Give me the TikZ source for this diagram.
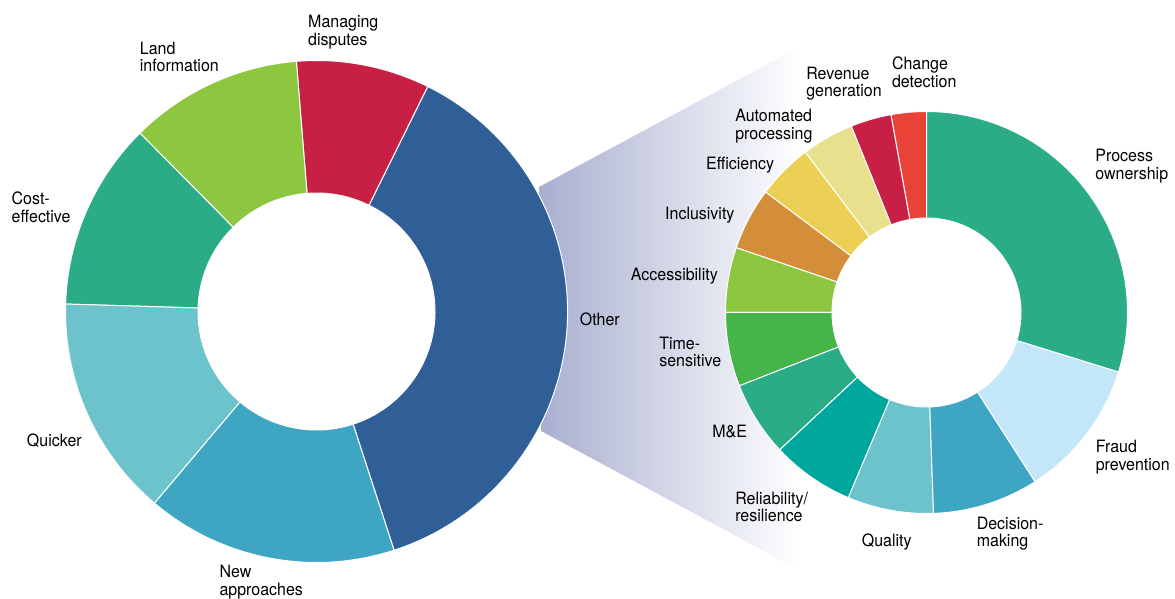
\documentclass[tikz,border=0pt]{standalone}
\usepackage{fontspec}
\setmainfont{TeX Gyre Heros}[FakeStretch=0.94]
\usepackage{tikz}

\definecolor{otherblue}{HTML}{2F5F96}
\definecolor{crimson}{HTML}{C81F45}
\definecolor{lime}{HTML}{8DC63F}
\definecolor{teal}{HTML}{2AAD87}
\definecolor{paleteal}{HTML}{6CC3CC}
\definecolor{midblue}{HTML}{3EA5C3}
\definecolor{skyblue}{HTML}{C3E7F8}
\definecolor{seagreen}{HTML}{00A79D}
\definecolor{grass}{HTML}{46B549}
\definecolor{ochre}{HTML}{D48E3A}
\definecolor{mustard}{HTML}{ECD056}
\definecolor{sand}{HTML}{E8E08C}
\definecolor{vermilion}{HTML}{EA4236}
\definecolor{funnel}{HTML}{A8AFCF}

\begin{document}
\begin{tikzpicture}[x=1pt,y=1pt,seg/.style={draw=white,line width=1pt}]

    \useasboundingbox (0,0) rectangle (1175,599);

    % zoom funnel behind the rings
    \shade[left color=funnel, right color=white]
        (539,412) -- (800,552.4) -- (800,28.6) -- (541,168) -- cycle;

    % left ring: R=251, r=118.5
    \begin{scope}[shift={(316.5,287.5)}]
        \filldraw[seg,fill=otherblue] (-72:251) arc[start angle=-72,end angle=63.7,radius=251] -- (63.7:118.5) arc[start angle=63.7,end angle=-72,radius=118.5] -- cycle;
        \filldraw[seg,fill=crimson] (63.7:251) arc[start angle=63.7,end angle=94.6,radius=251] -- (94.6:118.5) arc[start angle=94.6,end angle=63.7,radius=118.5] -- cycle;
        \filldraw[seg,fill=lime] (94.6:251) arc[start angle=94.6,end angle=134.7,radius=251] -- (134.7:118.5) arc[start angle=134.7,end angle=94.6,radius=118.5] -- cycle;
        \filldraw[seg,fill=teal] (134.7:251) arc[start angle=134.7,end angle=178.3,radius=251] -- (178.3:118.5) arc[start angle=178.3,end angle=134.7,radius=118.5] -- cycle;
        \filldraw[seg,fill=paleteal] (178.3:251) arc[start angle=178.3,end angle=229.8,radius=251] -- (229.8:118.5) arc[start angle=229.8,end angle=178.3,radius=118.5] -- cycle;
        \filldraw[seg,fill=midblue] (229.8:251) arc[start angle=229.8,end angle=288,radius=251] -- (288:118.5) arc[start angle=288,end angle=229.8,radius=118.5] -- cycle;
    \end{scope}

    % right ring: R=201, r=94.5
    \begin{scope}[shift={(926.5,286.5)}]
        \filldraw[seg,fill=vermilion] (90:201) arc[start angle=90,end angle=100.2,radius=201] -- (100.2:94.5) arc[start angle=100.2,end angle=90,radius=94.5] -- cycle;
        \filldraw[seg,fill=crimson] (100.2:201) arc[start angle=100.2,end angle=112,radius=201] -- (112:94.5) arc[start angle=112,end angle=100.2,radius=94.5] -- cycle;
        \filldraw[seg,fill=sand] (112:201) arc[start angle=112,end angle=127.1,radius=201] -- (127.1:94.5) arc[start angle=127.1,end angle=112,radius=94.5] -- cycle;
        \filldraw[seg,fill=mustard] (127.1:201) arc[start angle=127.1,end angle=143.2,radius=201] -- (143.2:94.5) arc[start angle=143.2,end angle=127.1,radius=94.5] -- cycle;
        \filldraw[seg,fill=ochre] (143.2:201) arc[start angle=143.2,end angle=161.2,radius=201] -- (161.2:94.5) arc[start angle=161.2,end angle=143.2,radius=94.5] -- cycle;
        \filldraw[seg,fill=lime] (161.2:201) arc[start angle=161.2,end angle=180,radius=201] -- (180:94.5) arc[start angle=180,end angle=161.2,radius=94.5] -- cycle;
        \filldraw[seg,fill=grass] (180:201) arc[start angle=180,end angle=201.4,radius=201] -- (201.4:94.5) arc[start angle=201.4,end angle=180,radius=94.5] -- cycle;
        \filldraw[seg,fill=teal] (201.4:201) arc[start angle=201.4,end angle=223.1,radius=201] -- (223.1:94.5) arc[start angle=223.1,end angle=201.4,radius=94.5] -- cycle;
        \filldraw[seg,fill=seagreen] (223.1:201) arc[start angle=223.1,end angle=247.1,radius=201] -- (247.1:94.5) arc[start angle=247.1,end angle=223.1,radius=94.5] -- cycle;
        \filldraw[seg,fill=paleteal] (247.1:201) arc[start angle=247.1,end angle=272,radius=201] -- (272:94.5) arc[start angle=272,end angle=247.1,radius=94.5] -- cycle;
        \filldraw[seg,fill=midblue] (272:201) arc[start angle=272,end angle=302.7,radius=201] -- (302.7:94.5) arc[start angle=302.7,end angle=272,radius=94.5] -- cycle;
        \filldraw[seg,fill=skyblue] (302.7:201) arc[start angle=302.7,end angle=342.8,radius=201] -- (342.8:94.5) arc[start angle=342.8,end angle=302.7,radius=94.5] -- cycle;
        \filldraw[seg,fill=teal] (342.8:201) arc[start angle=342.8,end angle=450,radius=201] -- (450:94.5) arc[start angle=450,end angle=342.8,radius=94.5] -- cycle;
    \end{scope}

    \begin{scope}[every node/.style={anchor=north west,inner sep=0pt,align=left,font=\fontsize{17}{17.7}\selectfont}]
        \node (l1) at (579.7,286.3) {Other};
        \node (l2) at (308,584) {Managing\\disputes};
        \node (l3) at (139.7,557.3) {Land\\information};
        \node (l4) at (11.5,407.3) {Cost-\\effective};
        \node (l5) at (26.8,165.7) {Quicker};
        \node (l6) at (219.3,34) {New\\approaches};

        \node (r1) at (891.8,542.3) {Change\\detection};
        \node (r2) at (806.1,532.3) {Revenue\\generation};
        \node (r3) at (735.1,490) {Automated\\processing};
        \node (r4) at (705.9,441.7) {Efficiency};
        \node (r5) at (665,391.7) {Inclusivity};
        \node (r6) at (630.7,331.3) {Accessibility};
        \node (r7) at (659.1,262.3) {Time-\\sensitive};
        \node (r8) at (712.1,174) {M\&E};
        \node (r9) at (735.1,107.3) {Reliability/\\resilience};
        \node (r10) at (861.7,65) {Quality};
        \node (r11) at (976.6,82.3) {Decision-\\making};
        \node (r12) at (1095.6,159) {Fraud\\prevention};
        \node (r13) at (1095.2,450) {Process\\ownership};
    \end{scope}

\end{tikzpicture}
\end{document}
